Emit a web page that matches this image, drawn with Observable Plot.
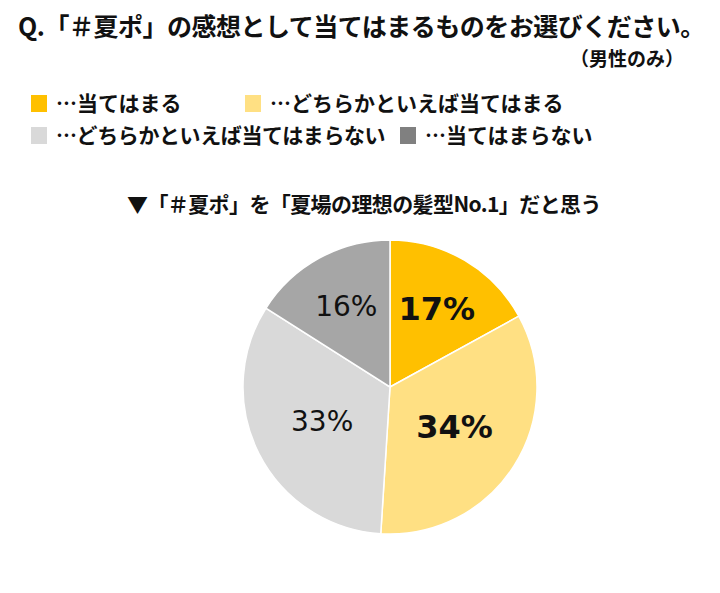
<!DOCTYPE html>
<html>
<head>
<meta charset="utf-8">
<script src="https://cdn.jsdelivr.net/npm/d3@7"></script>
<script src="https://cdn.jsdelivr.net/npm/@observablehq/plot@0.6"></script>
<style>
  body { margin: 0; background: #fff; }
  #wrap { position: relative; width: 720px; height: 593px; font-family: "Noto Sans CJK JP", "Noto Sans", sans-serif; color: #111; overflow: hidden; }
  .t { position: absolute; white-space: nowrap; line-height: 1; font-weight: 700; }
  .sw { position: absolute; width: 16px; height: 17px; }
</style>
</head>
<body>
<div id="wrap"></div>
<script>
const titleText = "Q.「＃夏ポ」の感想として当てはまるものをお選びください。";
const noteText = "（男性のみ）";
const subtitleText = "▼「＃夏ポ」を「夏場の理想の髪型No.1」だと思う";
const categories = ["当てはまる", "どちらかといえば当てはまる", "どちらかといえば当てはまらない", "当てはまらない"];
const values = [17, 34, 33, 16];
const sliceColors = ["#FFC000", "#FFE083", "#D9D9D9", "#A6A6A6"];
const legendColors = ["#FFC000", "#FFE083", "#D9D9D9", "#808080"];

const wrap = document.getElementById("wrap");
function addText(txt, css) {
  const d = document.createElement("div");
  d.className = "t";
  d.textContent = txt;
  Object.assign(d.style, css);
  wrap.appendChild(d);
  return d;
}
addText(titleText, {left: "18px", top: "13px", fontSize: "25px", letterSpacing: "-0.5px"});
addText(noteText, {right: "36px", top: "48px", fontSize: "19px"});

// legend
const legendPos = [[31, 95], [245, 95], [31, 127], [400, 127]];
categories.forEach((c, i) => {
  const [lx, ly] = legendPos[i];
  const s = document.createElement("div");
  s.className = "sw";
  s.style.left = lx + "px"; s.style.top = ly + "px";
  s.style.background = legendColors[i];
  wrap.appendChild(s);
  addText("…" + c, {left: (lx + 25) + "px", top: (ly - 3) + "px", fontSize: "21px", letterSpacing: i === 2 ? "-0.4px" : "0px"});
});

addText(subtitleText, {left: "127px", top: "193px", fontSize: "21px", letterSpacing: "-0.6px"});

// pie data
const data = categories.map((c, i) => ({category: c, value: values[i], color: sliceColors[i]}));
const arcs = d3.pie().sort(null).value(d => d.value)(data);
const labels = arcs.map((a, i) => {
  const mid = (a.startAngle + a.endAngle) / 2;
  const k = 0.72 - 0.006 * a.data.value;
  return {x: k * Math.sin(mid), y: k * Math.cos(mid), text: a.data.value + "%", strong: i < 2};
});

function pieMark(index, scales, values, dimensions) {
  const cx = scales.x(0), cy = scales.y(0);
  const r = scales.x(1) - scales.x(0);
  const arcGen = d3.arc().innerRadius(0).outerRadius(r);
  const g = d3.create("svg:g").attr("transform", `translate(${cx},${cy})`);
  g.selectAll("path").data(arcs).join("path")
    .attr("d", arcGen)
    .attr("fill", d => d.data.color)
    .attr("stroke", "#fff")
    .attr("stroke-width", 1.5);
  return g.node();
}

const chart = Plot.plot({
  width: 720,
  height: 363,
  marginLeft: 243,
  marginRight: 183,
  marginTop: 10,
  marginBottom: 59,
  x: {domain: [-1, 1], axis: null},
  y: {domain: [-1, 1], axis: null},
  style: {background: "transparent", overflow: "visible"},
  marks: [
    pieMark,
    Plot.text(labels.filter(d => d.strong), {x: "x", y: "y", text: "text", fontSize: 32, fontWeight: "bold", fill: "#111", fontFamily: "DejaVu Sans", letterSpacing: "1.5px"}),
    Plot.text(labels.filter(d => !d.strong), {x: "x", y: "y", text: "text", fontSize: 28, fontWeight: "normal", fill: "#111", fontFamily: "DejaVu Sans", letterSpacing: "3px"})
  ]
});
chart.style.position = "absolute";
chart.style.left = "0px";
chart.style.top = "230px";
wrap.appendChild(chart);
</script>
</body>
</html>
